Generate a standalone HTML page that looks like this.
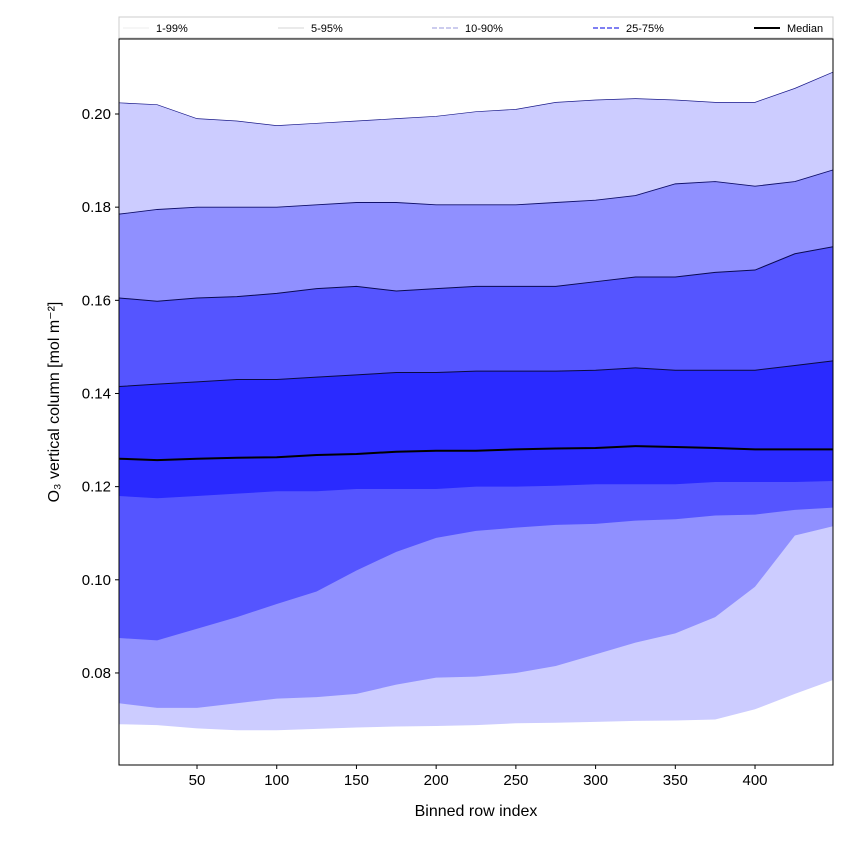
<!DOCTYPE html>
<html><head><meta charset="utf-8"><style>
body{margin:0;background:#fff;}
svg{font-family:"Liberation Sans","DejaVu Sans",sans-serif;}
</style></head><body>
<svg id="chart" width="850" height="850"></svg>
<script>
const xs   = [1,25,50,75,100,125,150,175,200,225,250,275,300,325,350,375,400,425,449];
const p99  = [0.2024,0.202,0.199,0.1985,0.1975,0.198,0.1985,0.199,0.1995,0.2005,0.201,0.2025,0.203,0.2033,0.203,0.2025,0.2025,0.2055,0.209];
const p95  = [0.1785,0.1795,0.180,0.180,0.180,0.1805,0.181,0.181,0.1805,0.1805,0.1805,0.181,0.1815,0.1825,0.185,0.1855,0.1845,0.1855,0.188];
const p90  = [0.1605,0.1598,0.1605,0.1608,0.1615,0.1625,0.163,0.162,0.1625,0.163,0.163,0.163,0.164,0.165,0.165,0.166,0.1665,0.170,0.1715];
const p75  = [0.1415,0.142,0.1425,0.143,0.143,0.1435,0.144,0.1445,0.1445,0.1448,0.1448,0.1448,0.145,0.1455,0.145,0.145,0.145,0.146,0.147];
const med  = [0.126,0.1257,0.126,0.1262,0.1263,0.1268,0.127,0.1275,0.1277,0.1277,0.128,0.1282,0.1283,0.1287,0.1285,0.1283,0.128,0.128,0.128];
const p25  = [0.118,0.1175,0.118,0.1185,0.119,0.119,0.1195,0.1195,0.1195,0.12,0.12,0.1202,0.1205,0.1205,0.1205,0.121,0.121,0.121,0.1212];
const p10  = [0.0875,0.087,0.0895,0.092,0.0948,0.0975,0.102,0.106,0.109,0.1105,0.1112,0.1118,0.112,0.1127,0.113,0.1138,0.114,0.115,0.1155];
const p5   = [0.0735,0.0725,0.0725,0.0735,0.0745,0.0748,0.0755,0.0775,0.079,0.0792,0.080,0.0815,0.084,0.0865,0.0885,0.092,0.0985,0.1095,0.1115];
const p1   = [0.069,0.0688,0.0681,0.0677,0.0677,0.068,0.0683,0.0685,0.0686,0.0688,0.0692,0.0693,0.0695,0.0697,0.0698,0.070,0.0722,0.0755,0.0785];
const xTicks = [50,100,150,200,250,300,350,400];
const yTicks = [0.08,0.10,0.12,0.14,0.16,0.18,0.20];
const legendLabels = ["1-99%","5-95%","10-90%","25-75%","Median"];

const NS="http://www.w3.org/2000/svg";
const svg=document.getElementById('chart');
const L=119,R=833,T=39,B=765;
const X=v=>117.3+(v)*1.5943;
const Y=v=>114+(0.20-v)*4658;
function mk(tag,attrs,parent){const e=document.createElementNS(NS,tag);for(const k in attrs)e.setAttribute(k,attrs[k]);(parent||svg).appendChild(e);return e;}
const clip=mk('clipPath',{id:'pc'});mk('rect',{x:L,y:T,width:R-L,height:B-T},clip);
const g=mk('g',{'clip-path':'url(#pc)'});
function band(lo,hi,fill,name){
  let d='M'+xs.map((x,i)=>X(x)+','+Y(hi[i])).join('L');
  for(let i=xs.length-1;i>=0;i--) d+='L'+X(xs[i])+','+Y(lo[i]);
  const p=mk('path',{d:d+'Z',fill:fill},g);
  
  
}
function line(arr,stroke,w,name,dash){
  const p=mk('path',{d:'M'+xs.map((x,i)=>X(x)+','+Y(arr[i])).join('L'),fill:'none',stroke:stroke,'stroke-width':w},g);
  if(dash)p.setAttribute('stroke-dasharray',dash);
  
  
}
band(p1,p99,'#ccccff','band-1-99');
band(p5,p95,'#9090ff','band-5-95');
band(p10,p90,'#5555ff','band-10-90');
band(p25,p75,'#2a2aff','band-25-75');
line(p99,'#1a1a8a',0.7,'line-p99');
line(p95,'#10106a',0.9,'line-p95');
line(p90,'#0a0a50',1,'line-p90');
line(p75,'#0a0a40',1,'line-p75');
line(med,'#000',2,'median-line');
mk('rect',{x:L,y:T,width:R-L,height:B-T,fill:'none',stroke:'#000','stroke-width':1});
xTicks.forEach(t=>{
  mk('line',{x1:X(t),x2:X(t),y1:B,y2:B+4,stroke:'#000'});
  const tx=mk('text',{x:X(t),y:B+20,'text-anchor':'middle','font-size':15});tx.textContent=t;
  
  
});
yTicks.forEach(t=>{
  mk('line',{x1:L-4,x2:L,y1:Y(t),y2:Y(t),stroke:'#000'});
  const tx=mk('text',{x:L-8,y:Y(t)+5,'text-anchor':'end','font-size':15});tx.textContent=t.toFixed(2);
  
  
});
const xt=mk('text',{x:476,y:816,'text-anchor':'middle','font-size':16});xt.textContent='Binned row index';


const yt=mk('text',{x:0,y:0,'text-anchor':'middle','font-size':16,transform:'translate(59,402) rotate(-90)'});yt.textContent='O₃ vertical column [mol m⁻²]';


// legend
const lg=mk('g',{});


mk('rect',{x:119,y:17,width:714,height:21,fill:'#fff',stroke:'#ccc'},lg);
const lx=[123,278,432,593,754], ls=[['#ddd',0.6,null],['#aaa',0.6,null],['#9999dd',1,'5,2'],['#5555ee',1.4,'5,2'],['#000',2,null]];
legendLabels.forEach((lab,i)=>{
  const e=mk('g',{},lg);
  
  
  const ln=mk('line',{x1:lx[i],x2:lx[i]+26,y1:28,y2:28,stroke:ls[i][0],'stroke-width':ls[i][1]},e);
  if(ls[i][2])ln.setAttribute('stroke-dasharray',ls[i][2]);
  const t=mk('text',{x:lx[i]+33,y:32,'font-size':11},e);t.textContent=lab;
});
</script>
</body></html>
